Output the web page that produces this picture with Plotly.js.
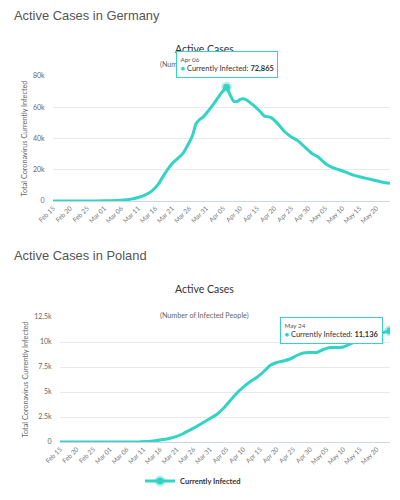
<!DOCTYPE html>
<html><head><meta charset="utf-8">
<script src="https://cdn.plot.ly/plotly-3.0.1.min.js"></script>
<style>html,body{margin:0;padding:0;background:#fff}#chart{width:400px;height:500px}</style>
</head><body><div id="chart"></div>
<script>
const germanyDates = ['2020-02-15','2020-02-25','2020-03-01','2020-03-06','2020-03-09','2020-03-11','2020-03-13','2020-03-15','2020-03-17','2020-03-19','2020-03-21','2020-03-23','2020-03-24','2020-03-25','2020-03-27','2020-03-28','2020-03-29','2020-03-30','2020-03-31','2020-04-02','2020-04-04','2020-04-05','2020-04-06','2020-04-07','2020-04-08','2020-04-09','2020-04-10','2020-04-11','2020-04-12','2020-04-14','2020-04-16','2020-04-17','2020-04-19','2020-04-21','2020-04-23','2020-04-25','2020-04-27','2020-04-29','2020-05-01','2020-05-03','2020-05-05','2020-05-07','2020-05-09','2020-05-11','2020-05-13','2020-05-15','2020-05-17','2020-05-20','2020-05-22','2020-05-24'];
const germanyActive = [10,10,100,500,1200,2200,3800,6300,11000,18000,24000,28000,30000,33500,42000,49500,52000,53500,56000,61500,67800,70500,72865,68000,64000,63500,65000,65500,64500,61000,57000,54500,53500,49500,44500,41000,38500,34500,30500,28000,24000,21500,20000,18500,16700,15500,14500,13000,12000,11300];
const polandDates = ['2020-02-15','2020-03-04','2020-03-10','2020-03-14','2020-03-17','2020-03-19','2020-03-21','2020-03-23','2020-03-25','2020-03-27','2020-03-29','2020-03-31','2020-04-02','2020-04-04','2020-04-07','2020-04-09','2020-04-12','2020-04-14','2020-04-16','2020-04-18','2020-04-20','2020-04-22','2020-04-24','2020-04-26','2020-04-28','2020-04-30','2020-05-02','2020-05-04','2020-05-06','2020-05-08','2020-05-10','2020-05-12','2020-05-14','2020-05-16','2020-05-18','2020-05-20','2020-05-22','2020-05-24'];
const polandActive = [0,1,20,100,240,370,560,850,1200,1550,1950,2350,2750,3350,4500,5200,6030,6450,7000,7650,7950,8100,8300,8650,8900,8950,8950,9250,9450,9450,9500,9800,10100,10300,10500,10750,10950,11136];
const tickDates = ['2020-02-15','2020-02-20','2020-02-25','2020-03-01','2020-03-06','2020-03-11','2020-03-16','2020-03-21','2020-03-26','2020-03-31','2020-04-05','2020-04-10','2020-04-15','2020-04-20','2020-04-25','2020-04-30','2020-05-05','2020-05-10','2020-05-15','2020-05-20'];
const tickLabels = ['Feb 15','Feb 20','Feb 25','Mar 01','Mar 06','Mar 11','Mar 16','Mar 21','Mar 26','Mar 31','Apr 05','Apr 10','Apr 15','Apr 20','Apr 25','Apr 30','May 05','May 10','May 15','May 20'];
const seriesName = 'Currently Infected';
const germanyHover = {date:'2020-04-06', label:'Apr 06', value:72865};
const polandHover = {date:'2020-05-24', label:'May 24', value:11136};

const TEAL = '#33d3c6';
const chartFont = 'Lato, "Open Sans", sans-serif';

function fmt(v){return v.toLocaleString('en-US');}

const traces = [
  {x:germanyDates, y:germanyActive, xaxis:'x', yaxis:'y', mode:'lines', line:{color:TEAL,width:3,shape:'spline',smoothing:0.4}, showlegend:false, name:seriesName},
  {x:[germanyHover.date], y:[germanyHover.value], xaxis:'x', yaxis:'y', mode:'markers', marker:{color:TEAL,size:7,line:{color:'rgba(51,211,198,0.35)',width:4}}, showlegend:false},
  {x:polandDates, y:polandActive, xaxis:'x2', yaxis:'y2', mode:'lines', line:{color:TEAL,width:3,shape:'spline',smoothing:0.4}, showlegend:false, name:seriesName},
  {x:[polandHover.date], y:[polandHover.value], xaxis:'x2', yaxis:'y2', mode:'lines+markers', line:{color:TEAL,width:3}, marker:{color:TEAL,size:7,line:{color:'rgba(51,211,198,0.35)',width:4}}, showlegend:true, name:seriesName}
];

const xCommon = {type:'date', tickmode:'array', tickvals:tickDates, ticktext:tickLabels, tickangle:-45, tickfont:{family:chartFont,size:6.5,color:'#777'}, showgrid:false, showline:true, linecolor:'#ccd6eb', linewidth:1, ticks:'', zeroline:false, automargin:false, range:['2020-02-15','2020-05-24']};
const yCommon = {showgrid:true, gridcolor:'#e9e9e9', gridwidth:1, zeroline:false, tickfont:{family:chartFont,size:7,color:'#666'}, automargin:false, ticks:'outside', ticklen:6, tickcolor:'rgba(0,0,0,0)', title:{text:'Total Coronavirus Currently Infected', font:{family:chartFont,size:7.3,color:'#666'}, standoff:4}};

const layout = {
  width:400, height:500,
  margin:{l:0,r:0,t:0,b:0},
  paper_bgcolor:'#fff', plot_bgcolor:'#fff',
  hovermode:false,
  xaxis:Object.assign({}, xCommon, {domain:[53/400, 390/400], anchor:'y'}),
  yaxis:Object.assign({}, yCommon, {domain:[1-201/500, 1-76/500], anchor:'x', range:[0,80000], tickvals:[0,20000,40000,60000,80000], ticktext:['0','20k','40k','60k','80k']}),
  xaxis2:Object.assign({}, xCommon, {domain:[60/400, 390/400], anchor:'y2'}),
  yaxis2:Object.assign({}, yCommon, {domain:[1-442/500, 1-317/500], anchor:'x2', range:[0,12500], tickvals:[0,2500,5000,7500,10000,12500], ticktext:['0','2.5k','5k','7.5k','10k','12.5k']}),
  legend:{x:0.4825, xanchor:'center', y:1-481/500, yanchor:'middle', orientation:'h', font:{family:chartFont,size:7.5,color:'#333',weight:'bold'}, bgcolor:'rgba(0,0,0,0)'},
  annotations:[
    {xref:'paper', yref:'paper', x:12/400, y:1-15/500, xanchor:'left', yanchor:'middle', text:'Active Cases in Germany', showarrow:false, font:{family:'"Liberation Sans", Arial, sans-serif', size:12.9, color:'#555'}},
    {xref:'paper', yref:'paper', x:12/400, y:1-255/500, xanchor:'left', yanchor:'middle', text:'Active Cases in Poland', showarrow:false, font:{family:'"Liberation Sans", Arial, sans-serif', size:12.9, color:'#555'}},
    {xref:'paper', yref:'paper', x:205/400, y:1-49/500, xanchor:'center', yanchor:'middle', text:'Active Cases', showarrow:false, font:{family:chartFont, size:10.5, color:'#333'}},
    {xref:'paper', yref:'paper', x:205/400, y:1-64/500, xanchor:'center', yanchor:'middle', text:'(Number of Infected People)', showarrow:false, font:{family:chartFont, size:7.2, color:'#666'}},
    {xref:'paper', yref:'paper', x:205/400, y:1-289/500, xanchor:'center', yanchor:'middle', text:'Active Cases', showarrow:false, font:{family:chartFont, size:10.5, color:'#333'}},
    {xref:'paper', yref:'paper', x:205/400, y:1-315/500, xanchor:'center', yanchor:'middle', text:'(Number of Infected People)', showarrow:false, font:{family:chartFont, size:7.2, color:'#666'}},
    {xref:'x', yref:'y', x:germanyHover.date, y:germanyHover.value, xanchor:'center', yanchor:'bottom', yshift:9, showarrow:false, align:'left',
     text:'<span style="font-size:6.3px;color:#555">'+germanyHover.label+'</span><br><span style="color:'+TEAL+'">●</span> '+seriesName+': <b>'+fmt(germanyHover.value)+'</b>',
     font:{family:chartFont,size:7.5,color:'#333'}, bgcolor:'#fff', bordercolor:TEAL, borderwidth:1, borderpad:3.5},
    {xref:'x2', yref:'y2', x:polandHover.date, y:polandHover.value, xanchor:'right', yanchor:'middle', xshift:-7, showarrow:false, align:'left',
     text:'<span style="font-size:6.3px;color:#555">'+polandHover.label+'</span><br><span style="color:'+TEAL+'">●</span> '+seriesName+': <b>'+fmt(polandHover.value)+'</b>',
     font:{family:chartFont,size:7.5,color:'#333'}, bgcolor:'#fff', bordercolor:TEAL, borderwidth:1, borderpad:3.5}
  ]
};

Plotly.newPlot('chart', traces, layout, {displayModeBar:false, staticPlot:true});
</script>
</body></html>
